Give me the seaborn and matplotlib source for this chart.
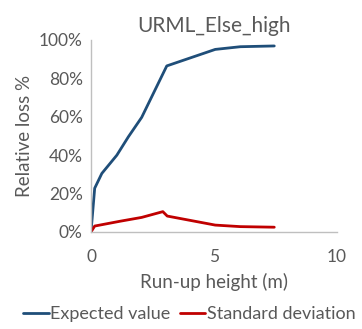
import matplotlib
matplotlib.use("Agg")
import matplotlib.pyplot as plt
import pandas as pd
import seaborn as sns
from matplotlib.ticker import PercentFormatter

# Data
height_m = [0.0, 0.15, 0.44, 1.05, 1.52, 2.06, 3.08, 5.05, 6.07, 7.45]
expected = [0.0, 22.8, 30.5, 40.0, 49.6, 59.7, 86.5, 95.1, 96.5, 96.9]

sd_height_m = [0.0, 0.15, 1.18, 2.06, 2.92, 3.1, 5.05, 6.07, 7.45]
std_dev = [0.0, 3.1, 5.6, 7.6, 10.6, 8.3, 3.6, 2.8, 2.5]

title = "URML_Else_high"
x_ticks = [0, 5, 10]
y_ticks = [0, 20, 40, 60, 80, 100]

grey = "#595959"
sns.set_style("white")
plt.rcParams["font.family"] = ["Lato", "DejaVu Sans"]

fig = plt.figure(figsize=(3.62, 3.29), dpi=100)
ax = fig.add_axes([91 / 362, 1 - 232 / 329, 246 / 362, 192 / 329])

df_exp = pd.DataFrame({"x": height_m, "y": expected})
df_sd = pd.DataFrame({"x": sd_height_m, "y": std_dev})
sns.lineplot(data=df_exp, x="x", y="y", ax=ax, color="#1F4E79", lw=2,
             label="Expected value")
sns.lineplot(data=df_sd, x="x", y="y", ax=ax, color="#C00000", lw=2,
             label="Standard deviation")

ax.set_xlim(0, 10)
ax.set_ylim(0, 100)
ax.set_xticks(x_ticks)
ax.set_yticks(y_ticks)
ax.yaxis.set_major_formatter(PercentFormatter(decimals=0))
ax.tick_params(length=0, labelsize=12.5, labelcolor=grey, pad=6)
ax.tick_params(axis="x", pad=12)
for side in ["top", "right"]:
    ax.spines[side].set_visible(False)
for side in ["left", "bottom"]:
    ax.spines[side].set_color("#BFBFBF")
    ax.spines[side].set_linewidth(1)

ax.set_title(title, fontsize=15, color=grey, pad=6)
ax.set_xlabel("Run-up height (m)", fontsize=13.5, color=grey, labelpad=6)
ax.set_ylabel("Relative loss %", fontsize=13.5, color=grey, labelpad=4)

ax.legend(loc="upper center", bbox_to_anchor=(0.4, -0.3), ncol=2,
          frameon=False, fontsize=13, labelcolor=grey, handlelength=1.4,
          handletextpad=0.1, columnspacing=0.5)

fig.savefig("out.png", dpi=100)
